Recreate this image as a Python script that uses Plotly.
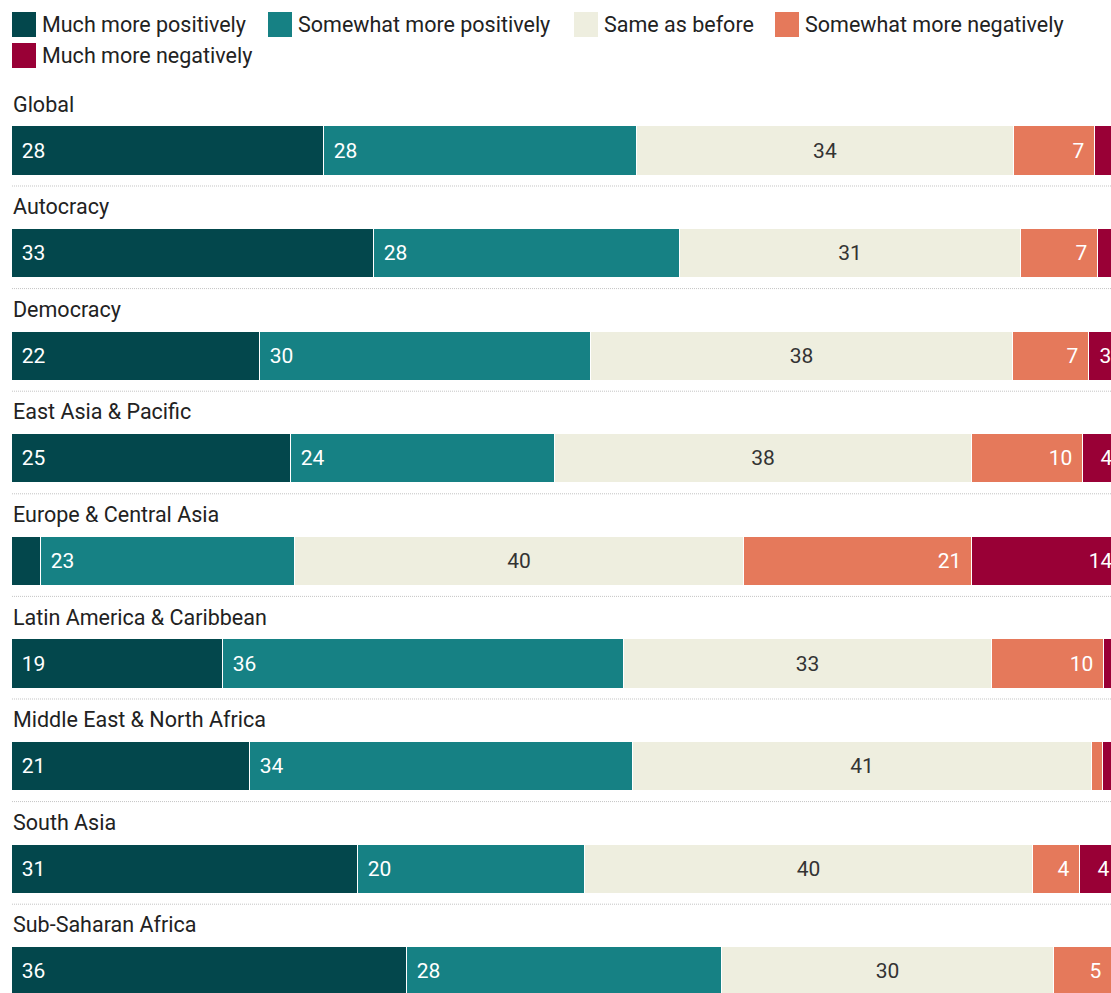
import plotly.graph_objects as go

categories = ["Global", "Autocracy", "Democracy", "East Asia & Pacific",
              "Europe & Central Asia", "Latin America & Caribbean",
              "Middle East & North Africa", "South Asia", "Sub-Saharan Africa"]

series_names = ["Much more positively", "Somewhat more positively", "Same as before",
                "Somewhat more negatively", "Much more negatively"]

much_pos = [28.1, 32.6, 22.3, 25.1, 2.6, 19.0, 21.4, 31.2, 35.6]
some_pos = [28.2, 27.6, 29.9, 23.8, 22.9, 36.1, 34.5, 20.4, 28.4]
same     = [34.0, 30.7, 38.0, 37.6, 40.4, 33.2, 41.4, 40.4, 29.9]
some_neg = [7.3, 6.9, 6.8, 10.0, 20.6, 10.1, 1.0, 4.2, 5.2]
much_neg = [2.4, 2.2, 3.0, 3.6, 13.6, 1.6, 1.6, 3.6, 0.9]

series_values = [much_pos, some_pos, same, some_neg, much_neg]
colors = ["#03474c", "#168184", "#eeeedf", "#e5795b", "#990036"]
text_colors = ["white", "white", "#333333", "white", "white"]
anchors = ["start", "start", "middle", "end", "end"]

FONT = "Roboto, 'Open Sans', Arial, sans-serif"
W, H = 1111, 993
L = 12
PW = W - L
SP = "\u2004"

fig = go.Figure()
ypos = list(range(len(categories)))
for name, vals, col, tcol, anc in zip(series_names, series_values, colors, text_colors, anchors):
    labels = []
    for v in vals:
        if v < 2.8:
            labels.append("")
        elif anc == "start":
            labels.append(SP + str(int(round(v))))
        elif anc == "end":
            labels.append(str(int(round(v))) + SP)
        else:
            labels.append(str(int(round(v))))
    fig.add_trace(go.Bar(
        x=vals, y=ypos, orientation="h", name=name,
        marker=dict(color=col, line=dict(color="white", width=1)),
        width=0.478,
        text=labels, textposition="inside", insidetextanchor=anc, textangle=0,
        textfont=dict(family=FONT, size=21, color=tcol),
        hoverinfo="x+name", showlegend=False,
    ))

shapes = []
annotations = []
for i, cat in enumerate(categories):
    annotations.append(dict(x=0, xref="paper", y=i - 0.458, yref="y", text=cat,
                            showarrow=False, xanchor="left", yanchor="middle", xshift=-1.5,
                            font=dict(family=FONT, size=21.5, color="#222222")))
    shapes.append(dict(type="line", xref="paper", x0=0, x1=1, yref="y",
                       y0=i + 0.341, y1=i + 0.341,
                       line=dict(color="#c4c4c4", width=1, dash="1px,1px")))

def px_x(px):
    return (px - L) / PW

def px_y(py):
    return 1 - py / H

legend_pos = [(12, 24.5), (268, 24.5), (574, 24.5), (775, 24.5), (12, 55.5)]
for (lx, ly), name, col in zip(legend_pos, series_names, colors):
    shapes.append(dict(type="rect", xref="paper", yref="paper",
                       x0=px_x(lx), x1=px_x(lx + 24), y0=px_y(ly - 12.5), y1=px_y(ly + 12.5),
                       fillcolor=col, line=dict(width=0)))
    annotations.append(dict(x=px_x(lx + 28), xref="paper", y=px_y(ly), yref="paper",
                            text=name, showarrow=False, xanchor="left", yanchor="middle",
                            font=dict(family=FONT, size=21.5, color="#222222")))

fig.update_layout(
    width=W, height=H,
    margin=dict(l=L, r=0, t=0, b=0, pad=0),
    barmode="stack",
    bargap=0,
    plot_bgcolor="white", paper_bgcolor="white",
    xaxis=dict(range=[0, 99], visible=False, fixedrange=True),
    yaxis=dict(range=[(H - 151) / 102.6, -151 / 102.6], visible=False, fixedrange=True),
    uniformtext=dict(minsize=21, mode="show"),
    shapes=shapes, annotations=annotations,
    showlegend=False,
)

fig.write_html("out.html")
